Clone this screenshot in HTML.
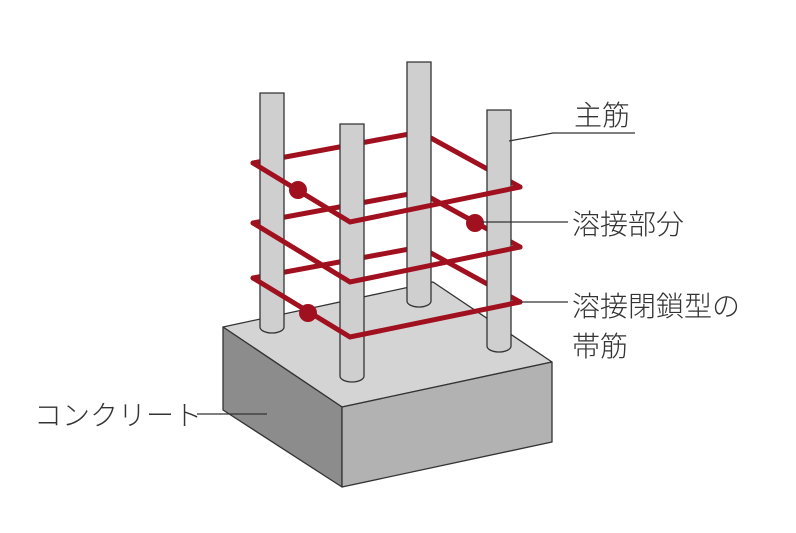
<!DOCTYPE html>
<html><head><meta charset="utf-8"><style>
html,body{margin:0;padding:0;background:#fff;width:796px;height:533px;overflow:hidden}
text{font-family:"Liberation Sans","Noto Sans CJK JP",sans-serif;font-size:28px;fill:#333;font-weight:300}
</style></head><body>
<svg width="796" height="533" viewBox="0 0 796 533" xmlns="http://www.w3.org/2000/svg">
<g stroke="#333" stroke-width="1.3" stroke-linejoin="round">
<polygon points="223,327 433,282 552,362 342,407" fill="#d4d4d4"/>
<polygon points="223,327 342,407 342,487 223,410" fill="#8c8c8c"/>
<polygon points="342,407 552,362 552,442 342,487" fill="#b2b2b2"/>
</g>
<g stroke="#a0101e" stroke-width="5" fill="none" stroke-linecap="round">
<polyline points="253,163 420,132 520,187"/>
<polyline points="253,223 420,192 520,247"/>
<polyline points="253,278 420,247 520,302"/>
</g>
<g stroke="#333" stroke-width="1.3" fill="#cfcfcf">
<path d="M260,93 H284 V327 A12,6 0 0 1 260,327 Z"/>
<path d="M407,62 H431 V301 A12,6 0 0 1 407,301 Z"/>
<path d="M487,110 H511 V346 A12,6 0 0 1 487,346 Z"/>
<path d="M340,124 H364 V376 A12,6 0 0 1 340,376 Z"/>
</g>
<g stroke="#a0101e" stroke-width="5" fill="none" stroke-linecap="round" stroke-linejoin="miter">
<polyline points="253,163 350,222 520,187"/>
<polyline points="253,223 350,282 520,247"/>
<polyline points="253,278 350,337 520,302"/>
</g>
<g fill="#a0101e">
<circle cx="298" cy="190" r="9"/>
<circle cx="475" cy="223" r="9"/>
<circle cx="308" cy="313" r="9"/>
</g>
<g stroke="#333" stroke-width="1.3" fill="none">
<polyline points="509,141 553,133 635,133"/>
<line x1="482" y1="222" x2="568" y2="222"/>
<line x1="520" y1="302" x2="568" y2="302"/>
<line x1="197" y1="414" x2="267" y2="414"/>
</g>
<text x="574" y="125">主筋</text>
<text x="572" y="234">溶接部分</text>
<text x="572" y="316">溶接閉鎖型の</text>
<text x="572" y="356">帯筋</text>
<text x="34" y="425">コンクリート</text>
</svg>
</body></html>
